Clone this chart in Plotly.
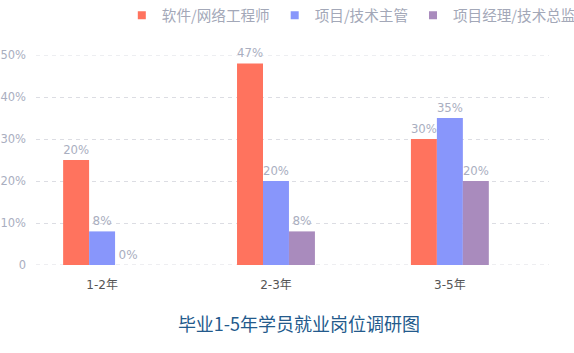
import plotly.graph_objects as go

categories = ["1-2年", "2-3年", "3-5年"]
series_names = ["软件/网络工程师", "项目/技术主管", "项目经理/技术总监"]
values_engineer = [25, 48, 30]
values_lead = [8, 20, 35]
values_manager = [0, 8, 20]
labels_engineer = ["20%", "47%", "30%"]
labels_lead = ["8%", "20%", "35%"]
labels_manager = ["0%", "8%", "20%"]
colors = ["#FF735E", "#8896FB", "#A98BBD"]
y_tickvals = [0, 10, 20, 30, 40, 50]
y_ticktext = ["0", "10%", "20%", "30%", "40%", "50%"]
title_text = "毕业1-5年学员就业岗位调研图"

FONT = "DejaVu Sans, Noto Sans CJK SC, sans-serif"
CJK = "Noto Sans CJK SC, sans-serif"
LABEL_GRAY = "#A9AEC0"
GRID = "#DCDDE3"

fig = go.Figure()
all_vals = [values_engineer, values_lead, values_manager]
all_labels = [labels_engineer, labels_lead, labels_manager]
for name, vals, labs, col in zip(series_names, all_vals, all_labels, colors):
    fig.add_trace(go.Bar(
        x=categories, y=vals, name=name, marker_color=col, marker_line_width=0,
        text=labs, texttemplate="%{text}", textposition="outside",
        textfont=dict(size=12, color=LABEL_GRAY, family=FONT),
        cliponaxis=False, showlegend=False, hoverinfo="skip",
    ))
# legend markers (small squares)
for name, col in zip(series_names, colors):
    fig.add_trace(go.Scatter(
        x=[None], y=[None], mode="markers", name=name,
        marker=dict(symbol="square", size=8, color=col),
        showlegend=True,
    ))

# edge gridlines (plotly skips grid at the range boundaries)
for v in (y_tickvals[0], y_tickvals[-1]):
    fig.add_shape(type="line", xref="paper", x0=0, x1=1, yref="y", y0=v, y1=v,
                  line=dict(color=GRID, width=1, dash="4px,4px"), layer="below")

fig.update_layout(
    width=574, height=353,
    margin=dict(l=36, r=25, t=55, b=88, autoexpand=False),
    paper_bgcolor="white", plot_bgcolor="white",
    barmode="group", bargap=0.552, bargroupgap=0,
    font=dict(family=FONT, color=LABEL_GRAY),
    legend=dict(
        orientation="h", xref="paper", yref="paper",
        x=1.062, xanchor="right", y=1.265, yanchor="top",
        font=dict(size=14.6, color="#A3A8B8", family=CJK),
        itemwidth=30, bgcolor="rgba(0,0,0,0)",
    ),
    title=dict(
        text=title_text, xref="container", yref="container",
        x=299 / 574, xanchor="center", y=1 - 325 / 353, yanchor="middle",
        font=dict(size=18, color="#235A8C", family=CJK),
    ),
)
fig.update_xaxes(
    type="category", range=[-0.38, 2.57], showgrid=False, zeroline=False,
    showline=False, ticks="", automargin=False,
    tickfont=dict(size=12, color="#555555", family=FONT),
    ticklabelstandoff=11,
)
fig.update_yaxes(
    range=[0, 50], tickvals=y_tickvals, ticktext=y_ticktext,
    showgrid=True, gridcolor=GRID, griddash="4px,4px", gridwidth=1,
    zeroline=False, showline=False, ticks="", automargin=False,
    tickfont=dict(size=11.5, color=LABEL_GRAY, family=FONT),
    ticklabelstandoff=9,
)
fig.write_html("out.html")
